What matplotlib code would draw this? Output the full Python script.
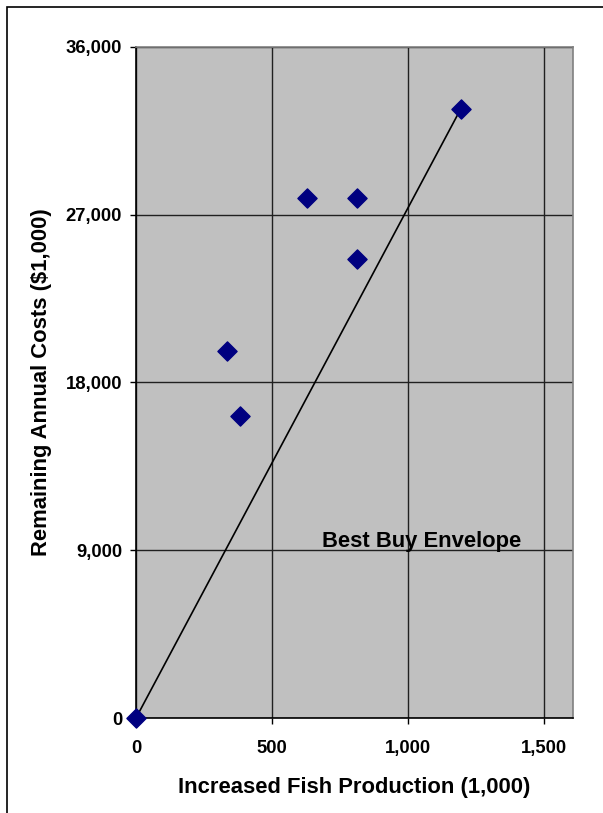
import matplotlib
matplotlib.use("Agg")
import matplotlib.pyplot as plt
from matplotlib.ticker import FuncFormatter
from matplotlib.patches import Rectangle

# Data
fish = [0, 335, 382, 629, 812, 812, 1195]
costs = [0, 19700, 16200, 27900, 27900, 24600, 32700]
envelope_x = [0, 1195]
envelope_y = [0, 32700]
x_ticks = [0, 500, 1000, 1500]
y_ticks = [0, 9000, 18000, 27000, 36000]

plt.rcParams['font.family'] = ['Liberation Sans', 'DejaVu Sans']

fig = plt.figure(figsize=(6.03, 8.13), dpi=100)
ax = fig.add_axes([136 / 603, 1 - 718 / 813, 437 / 603, 671 / 813])

# outer chart border
fig.patches.append(Rectangle((7 / 603, -0.01), 1.2, 1 - 7 / 813 + 0.01,
                             transform=fig.transFigure, fill=False,
                             edgecolor='black', linewidth=1.2))

ax.set_facecolor('#c0c0c0')
ax.plot(envelope_x, envelope_y, color='black', linewidth=1.2, zorder=3)
ax.scatter(fish, costs, marker='D', s=95, color='#000080', zorder=4, clip_on=False)

ax.set_xlim(0, 1607)
ax.set_ylim(0, 36000)
ax.set_xticks(x_ticks)
ax.set_yticks(y_ticks)
ax.xaxis.set_major_formatter(FuncFormatter(lambda v, p: f"{int(v):,}"))
ax.yaxis.set_major_formatter(FuncFormatter(lambda v, p: f"{int(v):,}"))
ax.grid(True, color='#202020', linewidth=1.0)
ax.set_axisbelow(True)

for s in ax.spines.values():
    s.set_color('#808080')
    s.set_linewidth(1.2)
ax.spines['left'].set_color('black')
ax.spines['bottom'].set_color('black')

ax.tick_params(axis='both', labelsize=13.3, length=4, width=1, direction='out')
ax.tick_params(axis='x', pad=12)
ax.tick_params(axis='y', pad=6)
for lbl in ax.get_xticklabels() + ax.get_yticklabels():
    lbl.set_fontweight('bold')

ax.set_xlabel("Increased Fish Production (1,000)", fontsize=15.8, fontweight='bold', labelpad=14)
ax.set_ylabel("Remaining Annual Costs ($1,000)", fontsize=15.8, fontweight='bold', labelpad=10)

ax.text(684, 9450, "Best Buy Envelope", fontsize=15.8, fontweight='bold', va='center')

fig.savefig("out.png", dpi=100)
